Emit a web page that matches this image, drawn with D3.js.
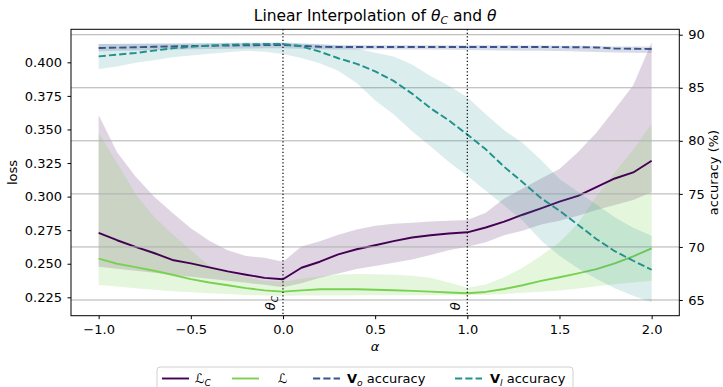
<!DOCTYPE html>
<html>
<head>
<meta charset="utf-8">
<script src="https://cdn.jsdelivr.net/npm/d3@7"></script>
<style>
	body { margin: 0; background: #fff; }
	svg { display: block; font-family: "DejaVu Sans", sans-serif; }
</style>
</head>
<body>
<svg id="chart" width="723" height="387"></svg>
<script>
// interpolation coefficient
const alphas = [-1.0, -0.9, -0.8, -0.7, -0.6, -0.5, -0.4, -0.3, -0.2, -0.1, 0.0,
	0.1, 0.2, 0.3, 0.4, 0.5, 0.6, 0.7, 0.8, 0.9, 1.0,
	1.1, 1.2, 1.3, 1.4, 1.5, 1.6, 1.7, 1.8, 1.9, 2.0];

// loss L_C (mean, lower, upper)
const lossC = [0.2730, 0.2675, 0.2625, 0.2580, 0.2528, 0.2503, 0.2473, 0.2443, 0.2418, 0.2395, 0.2384,
	0.2470, 0.2515, 0.2570, 0.2608, 0.2638, 0.2668, 0.2695, 0.2712, 0.2725, 0.2734,
	0.2770, 0.2813, 0.2865, 0.2912, 0.2962, 0.3005, 0.3070, 0.3135, 0.3180, 0.3267];
const lossCLo = [0.2478, 0.2462, 0.2447, 0.2432, 0.2418, 0.2403, 0.2388, 0.2373, 0.2358, 0.2343, 0.2324,
	0.2355, 0.2395, 0.2428, 0.2461, 0.2483, 0.2508, 0.2532, 0.2565, 0.2600, 0.2627,
	0.2660, 0.2713, 0.2745, 0.2792, 0.2820, 0.2858, 0.2900, 0.2938, 0.2975, 0.3032];
const lossCHi = [0.3608, 0.3330, 0.3150, 0.3000, 0.2880, 0.2765, 0.2672, 0.2600, 0.2558, 0.2545, 0.2515,
	0.2628, 0.2668, 0.2715, 0.2755, 0.2783, 0.2797, 0.2806, 0.2814, 0.2821, 0.2826,
	0.2880, 0.2985, 0.3060, 0.3135, 0.3205, 0.3330, 0.3475, 0.3650, 0.3830, 0.4149];

// loss L (mean, lower, upper)
const loss = [0.2538, 0.2500, 0.2475, 0.2448, 0.2418, 0.2385, 0.2360, 0.2340, 0.2318, 0.2302, 0.2292,
	0.2302, 0.2310, 0.2310, 0.2310, 0.2306, 0.2302, 0.2298, 0.2292, 0.2286, 0.2280,
	0.2290, 0.2312, 0.2340, 0.2372, 0.2399, 0.2428, 0.2460, 0.2503, 0.2555, 0.2615];
const lossLo = [0.2342, 0.2330, 0.2318, 0.2306, 0.2296, 0.2288, 0.2280, 0.2274, 0.2268, 0.2264, 0.2262,
	0.2263, 0.2264, 0.2264, 0.2265, 0.2265, 0.2265, 0.2265, 0.2265, 0.2265, 0.2265,
	0.2268, 0.2275, 0.2283, 0.2292, 0.2300, 0.2315, 0.2333, 0.2347, 0.2360, 0.2374];
const lossHi = [0.3471, 0.3250, 0.3020, 0.2850, 0.2720, 0.2600, 0.2485, 0.2435, 0.2400, 0.2372, 0.2366,
	0.2388, 0.2405, 0.2420, 0.2423, 0.2422, 0.2418, 0.2411, 0.2395, 0.2360, 0.2322,
	0.2345, 0.2400, 0.2470, 0.2560, 0.2660, 0.2800, 0.3000, 0.3180, 0.3350, 0.3540];

// V_o accuracy (%)
const accO = [88.75, 88.78, 88.82, 88.86, 88.90, 88.93, 88.96, 88.98, 89.00, 89.02, 89.03,
	88.95, 88.86, 88.84, 88.84, 88.84, 88.84, 88.84, 88.84, 88.84, 88.84,
	88.84, 88.84, 88.84, 88.84, 88.83, 88.82, 88.80, 88.70, 88.68, 88.65];
const accOLo = [88.45, 88.48, 88.52, 88.56, 88.60, 88.63, 88.66, 88.68, 88.70, 88.72, 88.73,
	88.68, 88.62, 88.60, 88.60, 88.60, 88.60, 88.60, 88.60, 88.58, 88.56,
	88.54, 88.52, 88.50, 88.48, 88.46, 88.42, 88.38, 88.32, 88.30, 88.28];
const accOHi = [89.12, 89.13, 89.14, 89.15, 89.16, 89.17, 89.18, 89.19, 89.20, 89.21, 89.22,
	89.16, 89.08, 89.04, 89.02, 89.01, 89.00, 89.00, 89.00, 89.00, 89.00,
	89.00, 89.00, 88.99, 88.98, 88.96, 88.95, 88.94, 88.90, 88.90, 88.90];

// V_l accuracy (%)
const accI = [87.96, 88.12, 88.28, 88.50, 88.72, 88.85, 88.98, 89.06, 89.10, 89.12, 89.12,
	88.90, 88.40, 87.78, 87.26, 86.55, 85.65, 84.45, 83.08, 81.92, 80.60,
	79.20, 77.55, 76.10, 74.60, 73.41, 72.10, 70.75, 69.60, 68.70, 67.85];
const accILo = [86.77, 87.00, 87.35, 87.60, 87.87, 88.05, 88.20, 88.35, 88.48, 88.40, 88.18,
	87.80, 87.30, 86.60, 85.45, 83.80, 82.50, 80.90, 79.50, 78.00, 76.70,
	75.30, 73.90, 72.50, 70.60, 69.17, 68.00, 67.00, 66.10, 65.40, 64.78];
const accIHi = [89.12, 89.14, 89.16, 89.18, 89.20, 89.20, 89.22, 89.24, 89.26, 89.27, 89.28,
	89.20, 89.12, 88.95, 88.70, 88.30, 87.95, 87.20, 86.10, 85.20, 84.10,
	82.50, 81.00, 79.80, 78.20, 76.40, 75.20, 74.00, 72.80, 71.80, 71.06];

const xTicks = [-1.0, -0.5, 0.0, 0.5, 1.0, 1.5, 2.0];
const lossTicks = [0.225, 0.250, 0.275, 0.300, 0.325, 0.350, 0.375, 0.400];
const accTicks = [65, 70, 75, 80, 85, 90];
const markers = [{ at: 0, name: 'θ', sub: 'C' }, { at: 1, name: 'θ', sub: '' }];

const colours = { lossC: '#440154', loss: '#7ad151', accO: '#3b528b', accI: '#21918c' };

const plot = { left: 71, right: 679.3, top: 29.3, bottom: 315.7 };
const fontSize = 13;

const svg = d3.select('#chart');

const x = d3.scaleLinear().domain([-1.15, 2.15]).range([plot.left, plot.right]);
const yLoss = d3.scaleLinear().domain([0.2113, 0.4246]).range([plot.bottom, plot.top]);
const yAcc = d3.scaleLinear().domain([63.52, 90.51]).range([plot.bottom, plot.top]);

const idx = d3.range(alphas.length);

function band(g, scale, lo, hi, colour, opacity) {
	g.append('path')
		.datum(idx)
		.attr('d', d3.area().x(i => x(alphas[i])).y0(i => scale(lo[i])).y1(i => scale(hi[i])))
		.attr('fill', colour)
		.attr('fill-opacity', opacity)
		.attr('stroke', 'none');
}

function meanLine(g, scale, values, colour, dashed) {
	g.append('path')
		.datum(idx)
		.attr('d', d3.line().x(i => x(alphas[i])).y(i => scale(values[i])))
		.attr('fill', 'none')
		.attr('stroke', colour)
		.attr('stroke-width', 1.9)
		.attr('stroke-dasharray', dashed ? '7.2,3.1' : null)
		.attr('stroke-linejoin', 'round');
}

// loss axis content
const lossG = svg.append('g');
band(lossG, yLoss, lossCLo, lossCHi, colours.lossC, 0.17);
band(lossG, yLoss, lossLo, lossHi, colours.loss, 0.2);
meanLine(lossG, yLoss, lossC, colours.lossC, false);
meanLine(lossG, yLoss, loss, colours.loss, false);

// grid follows the accuracy axis
svg.append('g')
	.selectAll('line')
	.data(accTicks)
	.enter().append('line')
	.attr('x1', plot.left)
	.attr('x2', plot.right)
	.attr('y1', d => yAcc(d))
	.attr('y2', d => yAcc(d))
	.attr('stroke', '#b0b0b0')
	.attr('stroke-width', 1);

// accuracy axis content
const accG = svg.append('g');
band(accG, yAcc, accOLo, accOHi, colours.accO, 0.2);
band(accG, yAcc, accILo, accIHi, colours.accI, 0.16);
meanLine(accG, yAcc, accO, colours.accO, true);
meanLine(accG, yAcc, accI, colours.accI, true);

// vertical markers at theta_C and theta
const markG = svg.append('g');
markG.selectAll('line')
	.data(markers)
	.enter().append('line')
	.attr('x1', d => x(d.at))
	.attr('x2', d => x(d.at))
	.attr('y1', plot.top)
	.attr('y2', plot.bottom)
	.attr('stroke', '#000')
	.attr('stroke-width', 1.2)
	.attr('stroke-dasharray', '1.3,2.2');

markG.selectAll('text')
	.data(markers)
	.enter().append('text')
	.attr('transform', d => `translate(${x(d.at) - 7.5},${plot.bottom - 5.5}) rotate(-90)`)
	.attr('font-size', fontSize)
	.each(function(d) {
		const t = d3.select(this);
		t.append('tspan').attr('font-style', 'italic').text(d.name);
		if (d.sub) {
			t.append('tspan')
				.attr('font-size', fontSize * 0.7)
				.attr('font-style', 'italic')
				.attr('dy', 2.5)
				.text(d.sub);
		}
	});

// frame
svg.append('rect')
	.attr('x', plot.left)
	.attr('y', plot.top)
	.attr('width', plot.right - plot.left)
	.attr('height', plot.bottom - plot.top)
	.attr('fill', 'none')
	.attr('stroke', '#000')
	.attr('stroke-width', 1);

function styleAxis(g) {
	g.select('.domain').remove();
	g.selectAll('.tick line').attr('stroke', '#000').attr('stroke-width', 1);
	g.selectAll('.tick text')
		.attr('fill', '#000')
		.attr('font-size', fontSize)
		.attr('font-family', '"DejaVu Sans", sans-serif');
}

const minus = d3.format('.1f');
svg.append('g')
	.attr('transform', `translate(0,${plot.bottom})`)
	.call(d3.axisBottom(x).tickValues(xTicks).tickSize(3.5).tickPadding(5.5)
		.tickFormat(d => minus(d)))
	.call(styleAxis);

svg.append('g')
	.attr('transform', `translate(${plot.left},0)`)
	.call(d3.axisLeft(yLoss).tickValues(lossTicks).tickSize(3.5).tickPadding(5.5)
		.tickFormat(d3.format('.3f')))
	.call(styleAxis);

svg.append('g')
	.attr('transform', `translate(${plot.right},0)`)
	.call(d3.axisRight(yAcc).tickValues(accTicks).tickSize(3.5).tickPadding(5.5)
		.tickFormat(d3.format('d')))
	.call(styleAxis);

// labels
const midX = (plot.left + plot.right) / 2;
const midY = (plot.top + plot.bottom) / 2;

const title = svg.append('text')
	.attr('x', midX)
	.attr('y', 21)
	.attr('text-anchor', 'middle')
	.attr('font-size', 15.5);
title.append('tspan').text('Linear Interpolation of ');
title.append('tspan').attr('font-style', 'italic').text('θ');
title.append('tspan').attr('font-style', 'italic').attr('font-size', 15.5 * 0.7).attr('dy', 3).text('C');
title.append('tspan').attr('dy', -3).text(' and ');
title.append('tspan').attr('font-style', 'italic').text('θ');

svg.append('text')
	.attr('x', midX)
	.attr('y', 351)
	.attr('text-anchor', 'middle')
	.attr('font-size', fontSize)
	.attr('font-style', 'italic')
	.text('α');

svg.append('text')
	.attr('transform', `translate(17,${midY}) rotate(-90)`)
	.attr('text-anchor', 'middle')
	.attr('font-size', fontSize)
	.text('loss');

svg.append('text')
	.attr('transform', `translate(718,${midY}) rotate(-90)`)
	.attr('text-anchor', 'middle')
	.attr('font-size', fontSize)
	.text('accuracy (%)');

// legend
const legendItems = [
	{ colour: colours.lossC, dashed: false, lineX: 162, textX: 195, kind: 'LC' },
	{ colour: colours.loss, dashed: false, lineX: 232, textX: 278, kind: 'L' },
	{ colour: colours.accO, dashed: true, lineX: 313, textX: 347, kind: 'Vo' },
	{ colour: colours.accI, dashed: true, lineX: 455, textX: 490, kind: 'Vl' }
];

const legend = svg.append('g');
legend.append('rect')
	.attr('x', 157)
	.attr('y', 367)
	.attr('width', 416)
	.attr('height', 30)
	.attr('rx', 3)
	.attr('fill', '#fff')
	.attr('fill-opacity', 0.8)
	.attr('stroke', '#d0d0d0')
	.attr('stroke-width', 1);

legendItems.forEach(item => {
	legend.append('line')
		.attr('x1', item.lineX)
		.attr('x2', item.lineX + 27)
		.attr('y1', 378.5)
		.attr('y2', 378.5)
		.attr('stroke', item.colour)
		.attr('stroke-width', 1.9)
		.attr('stroke-dasharray', item.dashed ? '7.2,3.1' : null);

	const t = legend.append('text')
		.attr('x', item.textX)
		.attr('y', 383)
		.attr('font-size', fontSize);
	if (item.kind === 'LC' || item.kind === 'L') {
		t.append('tspan').attr('font-style', 'italic').text('ℒ');
		if (item.kind === 'LC') {
			t.append('tspan').attr('font-style', 'italic').attr('font-size', fontSize * 0.7).attr('dy', 2.5).text('C');
		}
	} else {
		t.append('tspan').attr('font-weight', 'bold').text('V');
		t.append('tspan').attr('font-style', 'italic').attr('font-size', fontSize * 0.7).attr('dy', 2.5)
			.text(item.kind === 'Vo' ? 'o' : 'l');
		t.append('tspan').attr('dy', -2.5).text(' accuracy');
	}
});
</script>
</body>
</html>
